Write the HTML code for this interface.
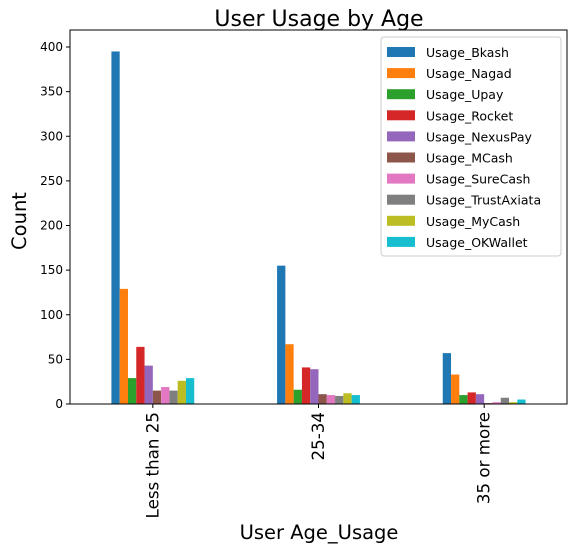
<!DOCTYPE html>
<html><head><meta charset="utf-8"><style>
body{margin:0;background:#fff;font-family:"Liberation Sans","DejaVu Sans",sans-serif}
</style></head><body>
<svg width="576" height="554" xmlns="http://www.w3.org/2000/svg" font-family="DejaVu Sans, Liberation Sans, sans-serif">
<g id="plot"></g>
</svg>
<script>
const categories=["Less than 25","25-34","35 or more"];
const seriesNames=["Usage_Bkash","Usage_Nagad","Usage_Upay","Usage_Rocket","Usage_NexusPay","Usage_MCash","Usage_SureCash","Usage_TrustAxiata","Usage_MyCash","Usage_OKWallet"];
const colors=["#1f77b4","#ff7f0e","#2ca02c","#d62728","#9467bd","#8c564b","#e377c2","#7f7f7f","#bcbd22","#17becf"];
const bkash=[395,155,57];
const nagad=[129,67,33];
const upay=[29,16,10];
const rocket=[64,41,13];
const nexus=[43,39,11];
const mcash=[15,11,1];
const surecash=[19,10,2];
const trust=[15,9,7];
const mycash=[26,12,2];
const okwallet=[29,10,5];
const yTicks=[0,50,100,150,200,250,300,350,400];
const series=[bkash,nagad,upay,rocket,nexus,mcash,surecash,trust,mycash,okwallet];

const L=70,R=567,T=30,B=404;
const y=v=>B-v*(357/400);
const x=i=>L+(i+0.5)*(R-L)/3;
const NS="http://www.w3.org/2000/svg";
const g=document.getElementById('plot');
function mk(t,a,txt){const e=document.createElementNS(NS,t);for(const k in a)e.setAttribute(k,a[k]);if(txt!==undefined)e.textContent=txt;g.appendChild(e);return e;}
const bw=(R-L)/3*0.5/series.length;
series.forEach((s,j)=>{s.forEach((v,i)=>{
 const bx=x(i)-(R-L)/3*0.25+j*bw;
 const r=mk('rect',{x:bx,y:y(v),width:bw,height:B-y(v),fill:colors[j]});
 
 
});});
const fr=mk('rect',{x:L,y:T,width:R-L,height:B-T,fill:'none',stroke:'#000','stroke-width':1});


yTicks.forEach(v=>{
 mk('line',{x1:L-4,x2:L,y1:y(v),y2:y(v),stroke:'#000'});
 const t=mk('text',{x:L-7,y:y(v)+4,'text-anchor':'end','font-size':12},String(v));
 
 
});
categories.forEach((c,i)=>{
 mk('line',{x1:x(i),x2:x(i),y1:B,y2:B+4,stroke:'#000'});
 const t=mk('text',{transform:`translate(${x(i)+5.5},${B+8}) rotate(-90)`,'text-anchor':'end','font-size':16.7},c);
 
 
});
let t=mk('text',{x:319,y:26,'text-anchor':'middle','font-size':22},'User Usage by Age');


t=mk('text',{transform:'translate(26,221) rotate(-90)','text-anchor':'middle','font-size':19.5},'Count');


t=mk('text',{x:319,y:539,'text-anchor':'middle','font-size':19.5},'User Age_Usage');


const lg=mk('rect',{x:381,y:37,width:180,height:219,fill:'#fff',stroke:'#ccc',rx:3});


seriesNames.forEach((n,j)=>{
 const yy=47+j*21.1;
 mk('rect',{x:387,y:yy,width:28,height:10,fill:colors[j]});
 const e=mk('text',{x:426,y:yy+10,'font-size':12.5},n);
 
 
});
</script>
</body></html>
